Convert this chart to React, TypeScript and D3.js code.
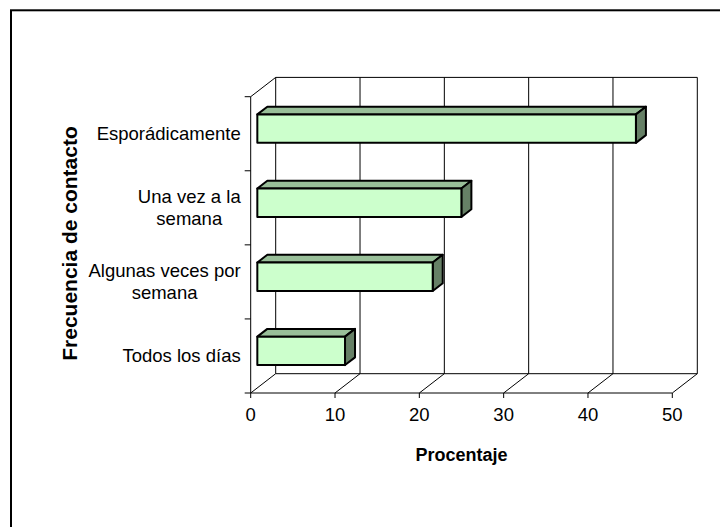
import React, { useRef, useEffect } from 'react'
import * as d3 from 'd3'

// bottom to top, as in the chart
const categories = ['Todos los días', 'Algunas veces por semana', 'Una vez a la semana', 'Esporádicamente']
const labelLines = [['Todos los días'], ['Algunas veces por', 'semana'], ['Una vez a la', 'semana'], ['Esporádicamente']]
const values = [10.4, 20.8, 24.2, 44.9]
const xTicks = [0, 10, 20, 30, 40, 50]
const xTitle = 'Procentaje'
const yTitle = 'Frecuencia de contacto'

export default function App() {
  const svgRef = useRef<SVGSVGElement>(null)

  useEffect(() => {
    if (!svgRef.current) return
    const svg = d3.select(svgRef.current)
    svg.selectAll('*').remove()

    const font = '"Liberation Sans", Arial, sans-serif'
    const left = 250.7
    const right = 672.3
    const top = 96.7
    const bottom = 393
    const depthDx = 25
    const depthDy = -19.3
    const barFront = 0.265
    const barBack = 0.665
    const barSize = 0.384

    const x = d3.scaleLinear().domain([0, 50]).range([left, right])
    const y = d3.scaleBand<string>().domain([...categories].reverse()).range([top, bottom])

    // outer frame
    svg.append('rect')
      .attr('x', 11).attr('y', 10.3).attr('width', 740).attr('height', 560)
      .attr('fill', 'none').attr('stroke', '#000').attr('stroke-width', 2)

    const g = svg.append('g')
    const line = (x1: number, y1: number, x2: number, y2: number) =>
      g.append('line').attr('x1', x1).attr('y1', y1).attr('x2', x2).attr('y2', y2)
        .attr('stroke', '#000').attr('stroke-width', 1)

    // back wall gridlines and floor diagonals
    xTicks.forEach(t => {
      line(x(t) + depthDx, top + depthDy, x(t) + depthDx, bottom + depthDy)
      line(x(t), bottom, x(t) + depthDx, bottom + depthDy)
      line(x(t), bottom, x(t), bottom + 5)
    })
    line(left + depthDx, top + depthDy, x(50) + depthDx, top + depthDy)
    line(left + depthDx, bottom + depthDy, x(50) + depthDx, bottom + depthDy)
    line(left, top, left + depthDx, top + depthDy)
    line(left, top, left, bottom)
    line(left, bottom, right, bottom)

    // left axis ticks at category boundaries
    const bounds = [top, ...categories.map(c => (y(c) as number) + y.bandwidth())]
    bounds.forEach(b => line(left - 6, b, left, b))

    // bars
    categories.forEach((c, i) => {
      const v = values[i]
      const cy = (y(c) as number) + y.bandwidth() / 2
      const h = y.bandwidth() * barSize
      const fx = barFront * depthDx
      const fy = barFront * depthDy
      const bx = barBack * depthDx
      const by = barBack * depthDy
      const x0 = x(0)
      const x1 = x(v)
      const y0 = cy - h / 2
      const y1 = cy + h / 2
      const bar = g.append('g').attr('stroke', '#000').attr('stroke-width', 2).attr('stroke-linejoin', 'round')
      bar.append('path')
        .attr('d', `M${x0 + fx},${y0 + fy}L${x0 + bx},${y0 + by}L${x1 + bx},${y0 + by}L${x1 + fx},${y0 + fy}Z`)
        .attr('fill', '#99bf99')
      bar.append('path')
        .attr('d', `M${x1 + fx},${y0 + fy}L${x1 + bx},${y0 + by}L${x1 + bx},${y1 + by}L${x1 + fx},${y1 + fy}Z`)
        .attr('fill', '#668066')
      bar.append('rect')
        .attr('x', x0 + fx).attr('y', y0 + fy).attr('width', x1 - x0).attr('height', h)
        .attr('fill', '#ccffcc')
    })

    // category labels, each block right aligned, lines centred in the block
    categories.forEach((c, i) => {
      const lines = labelLines[i]
      const cy = (y(c) as number) + y.bandwidth() / 2
      const t = svg.append('text')
        .attr('font-family', font).attr('font-size', 18.5).attr('fill', '#000')
        .attr('text-anchor', 'middle')
      const spans = lines.map((l, k) =>
        t.append('tspan').attr('y', cy + 6.3 + (k - (lines.length - 1) / 2) * 22.6).text(l))
      let w = 0
      spans.forEach(s => { w = Math.max(w, (s.node() as SVGTSpanElement).getComputedTextLength()) })
      spans.forEach(s => s.attr('x', 240.7 - w / 2))
    })

    // x tick labels
    svg.append('g').selectAll('text').data(xTicks).join('text')
      .attr('x', d => x(d)).attr('y', 420.7)
      .attr('text-anchor', 'middle')
      .attr('font-family', font).attr('font-size', 18.5).attr('fill', '#000')
      .text(d => d)

    svg.append('text')
      .attr('x', (left + right) / 2).attr('y', 461.3)
      .attr('text-anchor', 'middle')
      .attr('font-family', font).attr('font-size', 18).attr('font-weight', 'bold')
      .text(xTitle)

    svg.append('text')
      .attr('transform', 'translate(76.5,243.5) rotate(-90)')
      .attr('text-anchor', 'middle')
      .attr('font-family', font).attr('font-size', 21).attr('font-weight', 'bold')
      .text(yTitle)
  }, [])

  return (
    <svg ref={svgRef} width={720} height={527}
      style={{ position: 'absolute', left: 0, top: 0, background: '#fff' }} />
  )
}
